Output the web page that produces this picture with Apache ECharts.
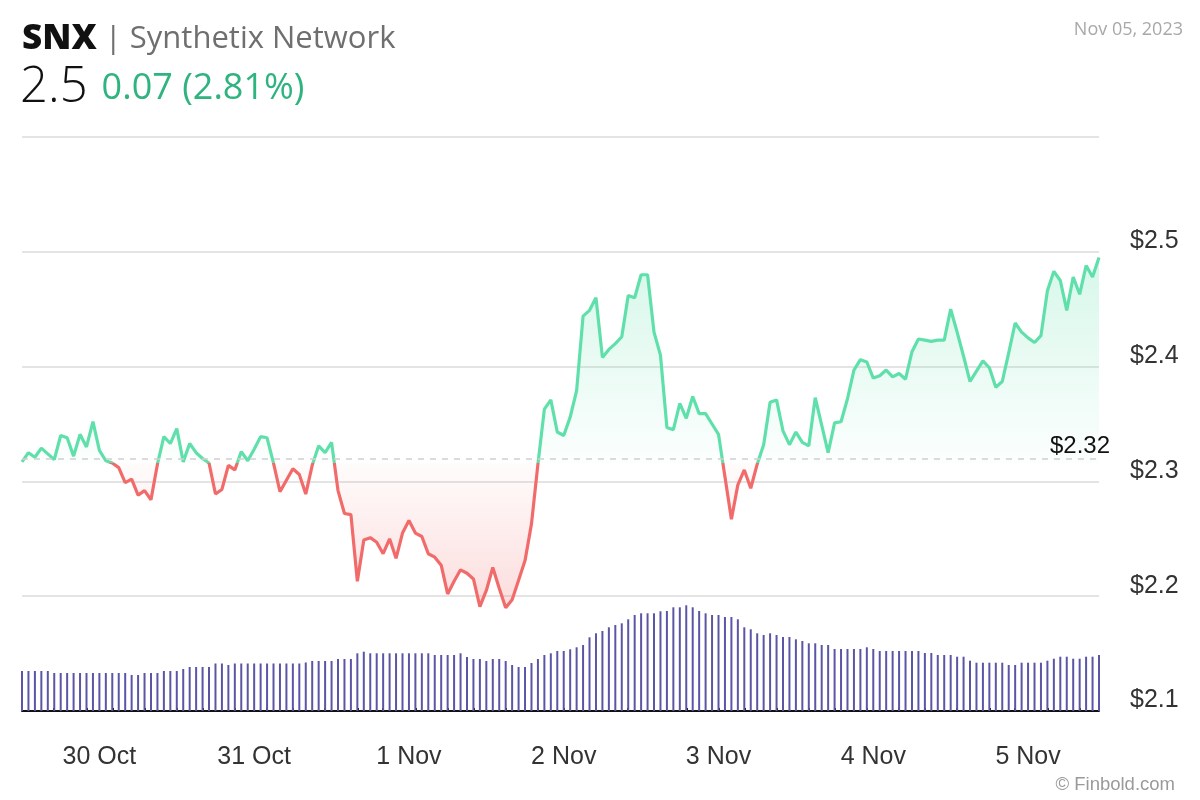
<!DOCTYPE html>
<html>
<head>
<meta charset="utf-8">
<script src="https://cdn.jsdelivr.net/npm/echarts@6/dist/echarts.min.js"></script>
<style>
html,body{margin:0;padding:0;background:#fff;}
#chart{width:1200px;height:800px;}
</style>
</head>
<body>
<div id="chart"></div>
<script>
// ---------- header texts ----------
const tickerSymbol = 'SNX';
const tickerName = 'Synthetix Network';
const lastPrice = '2.5';
const priceChange = '0.07 (2.81%)';
const dateText = 'Nov 05, 2023';
const sourceText = '© Finbold.com';

// ---------- axis ----------
const yTicks = [2.1, 2.2, 2.3, 2.4, 2.5];
const yMin = 2.1, yMax = 2.6, yStep = 0.1;
const baseline = 2.316;               // reference price (dashed line)
const monthNames = ['Jan','Feb','Mar','Apr','May','Jun','Jul','Aug','Sep','Oct','Nov','Dec'];
const startUTC = Date.UTC(2023, 9, 29, 12, 0); // first hourly sample
const hourCount = 168;

// ---------- price (hourly) ----------
const price = [
 2.317,2.325,2.321,2.329,2.324,2.319,2.340,2.338,2.322,2.341,
 2.330,2.352,2.327,2.318,2.316,2.312,2.299,2.302,2.288,2.292,
 2.284,2.315,2.339,2.333,2.346,2.317,2.333,2.325,2.320,2.316,
 2.289,2.293,2.314,2.310,2.326,2.318,2.328,2.339,2.338,2.316,
 2.291,2.301,2.311,2.306,2.289,2.314,2.331,2.325,2.334,2.292,
 2.272,2.271,2.213,2.249,2.251,2.247,2.237,2.250,2.233,2.255,
 2.266,2.255,2.252,2.237,2.234,2.227,2.202,2.213,2.223,2.220,
 2.215,2.191,2.205,2.225,2.207,2.190,2.197,2.214,2.231,2.263,
 2.315,2.363,2.371,2.343,2.340,2.356,2.379,2.444,2.449,2.460,
 2.408,2.415,2.420,2.426,2.462,2.460,2.480,2.480,2.430,2.410,
 2.347,2.345,2.368,2.355,2.374,2.359,2.359,2.350,2.341,2.304,
 2.267,2.297,2.310,2.294,2.315,2.332,2.369,2.371,2.344,2.332,
 2.343,2.334,2.331,2.373,2.349,2.325,2.351,2.352,2.372,2.397,
 2.406,2.404,2.390,2.392,2.397,2.391,2.394,2.389,2.413,2.424,
 2.423,2.422,2.423,2.423,2.450,2.430,2.409,2.387,2.396,2.405,
 2.399,2.382,2.387,2.412,2.438,2.430,2.425,2.421,2.427,2.466,
 2.483,2.475,2.449,2.478,2.463,2.488,2.478,2.495
];

// ---------- volume (hourly, relative units) ----------
const volume = [
 40,40,40,40,40,38,38,38,38,38,
 38,38,38,38,38,38,38,36,36,38,
 38,38,40,40,40,42,44,44,44,44,
 47.5,47.5,46,47.5,47.5,47.5,47.5,47.5,47.5,47.5,
 47.5,47.5,47.5,47.5,48.5,50,50,50,50,52,
 52,52,57.7,59.3,57.7,57.7,57.7,57.7,57.7,57.7,
 57.7,57.7,57.7,57.7,56,56,56,56,57.7,54,
 52,52,50,52,52,50,46,44,44,48,
 52,56,57.7,60,60,61.7,63.7,66,73.7,77.7,
 80,83.7,86,87.7,91.7,96,97.7,97.7,97.7,99.7,
 100,103.7,103.7,105.7,103.7,100,97.7,96,96,94,
 94,91.7,83.7,81.7,77.7,76,77.7,76,74,74,
 71.7,70,67.7,67.7,66,66,62,62,62,62,
 62,63.7,62,60,60,60,60,60,60,60,
 58,58,56,56,56,54.3,54.3,50.3,48.3,48.3,
 48.3,48.3,48.3,46,46,48.3,48.3,48.3,48.3,50.3,
 52.3,54.3,54.3,52.3,52.3,54.3,54.3,56
];
const volumeAxisMax = 574;

// ---------- colours ----------
const upColor = '#5fe0ab';
const downColor = '#f26b6b';
const volColor = '#5a55a5';

// hourly categories
const categories = [];
for (let i = 0; i < hourCount; i++) {
  const d = new Date(startUTC + i * 3600000);
  const hh = String(d.getUTCHours()).padStart(2, '0');
  categories.push(d.getUTCDate() + ' ' + monthNames[d.getUTCMonth()] + ' ' + hh + ':00');
}

const chart = echarts.init(document.getElementById('chart'), null, {renderer: 'canvas'});
const font = '"Liberation Sans", Arial, sans-serif';
const headFont = '"Open Sans", sans-serif';

const option = {
  animation: false,
  backgroundColor: '#fff',
  title: [
    {
      left: 17, top: 17,
      text: '{a|' + tickerSymbol + '}{b| | ' + tickerName + '}',
      textStyle: {
        rich: {
          a: {fontFamily: headFont, fontSize: 35, fontWeight: 800, color: '#111'},
          b: {fontFamily: headFont, fontSize: 31, fontWeight: 400, color: '#6f6f6f'}
        }
      }
    },
    {
      left: 15, top: 59,
      text: '{c|' + lastPrice + '}{d|' + priceChange + '}',
      textStyle: {
        rich: {
          c: {fontFamily: headFont, fontSize: 49, fontWeight: 300, color: '#111'},
          d: {fontFamily: headFont, fontSize: 36, fontWeight: 400, color: '#2fb37f', padding: [0, 0, 0, 14]}
        }
      }
    },
    {
      right: 12, top: 16,
      text: dateText,
      textStyle: {fontFamily: headFont, fontSize: 18, fontWeight: 400, color: '#a8a8a8'}
    },
    {
      right: 20, bottom: 1,
      text: sourceText,
      textStyle: {fontFamily: font, fontSize: 18.5, fontWeight: 400, color: '#9a9a9a'}
    }
  ],
  grid: {left: 22, right: 101, top: 137, bottom: 89, containLabel: false},
  xAxis: {
    type: 'category',
    data: categories,
    boundaryGap: false,
    axisLine: {lineStyle: {color: '#111', width: 2}},
    axisTick: {
      show: true, inside: true, length: 3,
      lineStyle: {color: '#111', width: 2},
      interval: function (i) { return i === 0 || Math.floor(i * 3 / 14) !== Math.floor((i - 1) * 3 / 14); }
    },
    axisLabel: {
      interval: function (i, v) { return /00:00$/.test(v); },
      formatter: function (v) { return v.split(' ').slice(0, 2).join(' '); },
      fontFamily: font, fontSize: 25, color: '#333', margin: 34
    },
    splitLine: {show: false}
  },
  yAxis: [
    {
      type: 'value', position: 'right',
      min: yMin, max: yMax, interval: yStep,
      axisLine: {show: false}, axisTick: {show: false},
      splitLine: {lineStyle: {color: '#e4e4e4', width: 2}},
      axisLabel: {
        formatter: function (v) {
          return yTicks.some(t => Math.abs(t - v) < 1e-6) ? '$' + v.toFixed(1) : '';
        },
        fontFamily: font, fontSize: 25, color: '#333', margin: 31,
        verticalAlign: 'bottom', lineHeight: 21
      }
    },
    {type: 'value', min: 0, max: volumeAxisMax, show: false, splitLine: {show: false}}
  ],
  series: [
    {
      type: 'bar', yAxisIndex: 1, data: volume, barWidth: 2,
      itemStyle: {color: volColor}, silent: true, z: 1
    },
    {
      type: 'line', data: price, symbol: 'none', smooth: false, z: 3,
      lineStyle: {width: 3.2, color: upColor},
      areaStyle: {origin: baseline, color: 'rgba(95,224,171,0.15)'},
      markLine: {
        silent: true, symbol: ['none', 'none'],
        lineStyle: {color: '#cfcfcf', type: [6, 6], width: 1.5},
        label: {
          show: true, position: 'insideEndTop',
          formatter: '$' + baseline.toFixed(2),
          fontFamily: font, fontSize: 24, color: '#111', offset: [16, 5]
        },
        data: [{yAxis: baseline}]
      }
    }
  ]
};
chart.setOption(option);

// colour split at the baseline: global gradients in pixel space of the y axis
const yTop = chart.convertToPixel({yAxisIndex: 0}, yMax);
const yBot = chart.convertToPixel({yAxisIndex: 0}, yMin);
const fb = (yMax - baseline) / (yMax - yMin);
const lineGrad = new echarts.graphic.LinearGradient(0, yTop, 0, yBot, [
  {offset: 0, color: upColor}, {offset: fb, color: upColor},
  {offset: fb, color: downColor}, {offset: 1, color: downColor}
], true);
const areaGrad = new echarts.graphic.LinearGradient(0, yTop, 0, yBot, [
  {offset: 0, color: 'rgba(95,224,171,0.55)'},
  {offset: fb, color: 'rgba(95,224,171,0.03)'},
  {offset: fb, color: 'rgba(242,107,107,0.03)'},
  {offset: 1, color: 'rgba(242,107,107,0.55)'}
], true);
chart.setOption({
  series: [{}, {lineStyle: {color: lineGrad}, areaStyle: {color: areaGrad}}]
});
</script>
</body>
</html>
